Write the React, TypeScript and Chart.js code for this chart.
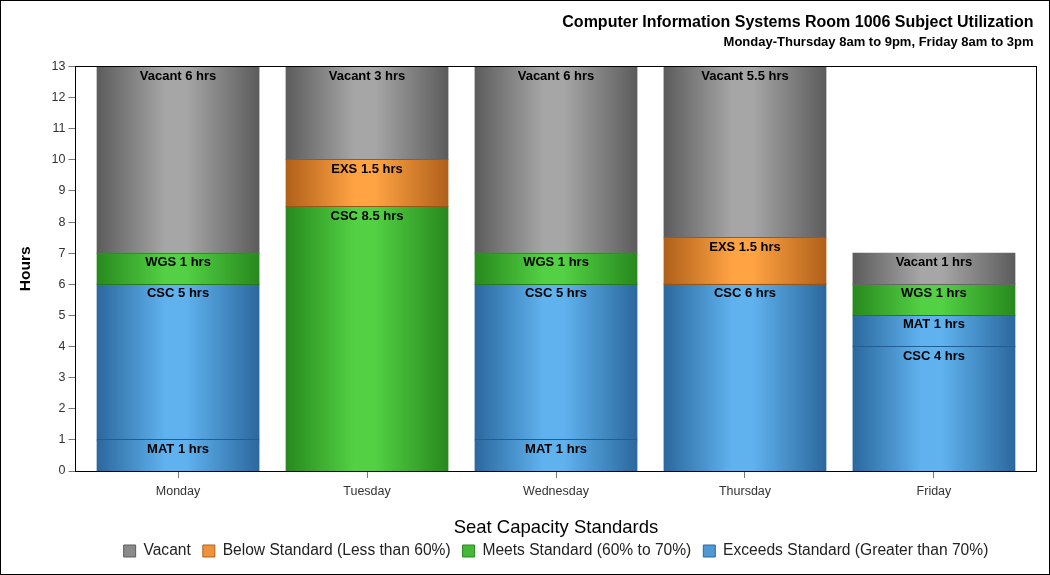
import React, { useEffect, useRef } from "react";
import { Chart, registerables } from "chart.js";

Chart.register(...registerables);

// ---------- data ----------
const days = ["Monday", "Tuesday", "Wednesday", "Thursday", "Friday"];
const matLowHours = [1, null, 1, null, null]; // Exceeds, bottom segment
const cscExceedsHours = [5, null, 5, 6, 4]; // Exceeds
const matHighHours = [null, null, null, null, 1]; // Exceeds, above CSC
const cscMeetsHours = [null, 8.5, null, null, null]; // Meets
const wgsMeetsHours = [1, null, 1, null, 1]; // Meets
const exsBelowHours = [null, 1.5, null, 1.5, null]; // Below
const vacantHours = [6, 3, 6, 5.5, 1]; // Vacant
const yTicks = [0, 1, 2, 3, 4, 5, 6, 7, 8, 9, 10, 11, 12, 13];

const titleText = "Computer Information Systems Room 1006 Subject Utilization";
const subtitleText = "Monday-Thursday 8am to 9pm, Friday 8am to 3pm";
const legendTitle = "Seat Capacity Standards";
const legendNames = {
  vacant: "Vacant",
  below: "Below Standard (Less than 60%)",
  meets: "Meets Standard (60% to 70%)",
  exceeds: "Exceeds Standard (Greater than 70%)",
};
const legendOrder = ["vacant", "below", "meets", "exceeds"];

// ---------- styles ----------
const FONT = '"Liberation Sans", Arial, sans-serif';
const palette: Record<string, { edge: string; light: string; border: string; box: string }> = {
  vacant: { edge: "#5c5c5c", light: "#a6a6a6", border: "#666666", box: "#8a8a8a" },
  below: { edge: "#b0601a", light: "#ffa343", border: "#9a5512", box: "#f0923a" },
  meets: { edge: "#27891d", light: "#53d044", border: "#237a1a", box: "#45b83a" },
  exceeds: { edge: "#2b689e", light: "#5fb2ee", border: "#1f5e94", box: "#4f98d4" },
};
const BAR_PCT = 0.856;
const X_INSET = 0.0426; // extra category-space at both ends of the x axis

const segments = [
  { code: "MAT", group: "exceeds", data: matLowHours },
  { code: "CSC", group: "exceeds", data: cscExceedsHours },
  { code: "MAT", group: "exceeds", data: matHighHours },
  { code: "CSC", group: "meets", data: cscMeetsHours },
  { code: "WGS", group: "meets", data: wgsMeetsHours },
  { code: "EXS", group: "below", data: exsBelowHours },
  { code: "Vacant", group: "vacant", data: vacantHours },
];

function gradientFor(group: string) {
  const p = palette[group];
  return (c: any) => {
    const chart = c.chart;
    const xs = chart.scales && chart.scales.x;
    if (!chart.chartArea || !xs || c.dataIndex === undefined) return p.box;
    const cx = xs.getPixelForValue(c.dataIndex);
    const step = Math.abs(xs.getPixelForValue(1) - xs.getPixelForValue(0));
    if (!isFinite(cx) || !isFinite(step) || step === 0) return p.box;
    const half = (step * BAR_PCT) / 2;
    const g = chart.ctx.createLinearGradient(cx - half, 0, cx + half, 0);
    g.addColorStop(0, p.edge);
    g.addColorStop(0.42, p.light);
    g.addColorStop(0.55, p.light);
    g.addColorStop(1, p.edge);
    return g;
  };
}

const segmentLabelPlugin = {
  id: "segmentLabels",
  afterDatasetsDraw(chart: any) {
    const ctx = chart.ctx;
    const area = chart.chartArea;
    ctx.save();
    // boundary lines at the bottom of each stacked segment
    ctx.lineWidth = 1;
    chart.data.datasets.forEach((ds: any, di: number) => {
      const meta = chart.getDatasetMeta(di);
      meta.data.forEach((bar: any, i: number) => {
        const v = ds.data[i];
        if (v === null || v === undefined) return;
        const bottom = Math.max(bar.y, bar.base);
        if (bottom >= area.bottom - 1) return;
        const yy = Math.floor(bottom) + 0.5;
        ctx.strokeStyle = ds.lineColor;
        ctx.beginPath();
        ctx.moveTo(bar.x - bar.width / 2, yy);
        ctx.lineTo(bar.x + bar.width / 2, yy);
        ctx.stroke();
      });
    });
    ctx.font = `bold 13px ${FONT}`;
    ctx.fillStyle = "#000";
    ctx.textAlign = "center";
    ctx.textBaseline = "alphabetic";
    chart.data.datasets.forEach((ds: any, di: number) => {
      const meta = chart.getDatasetMeta(di);
      meta.data.forEach((bar: any, i: number) => {
        const v = ds.data[i];
        if (v === null || v === undefined) return;
        const top = Math.min(bar.y, bar.base);
        ctx.fillText(`${ds.code} ${v} hrs`, bar.x, top + 13);
      });
    });
    ctx.restore();
  },
};

const framePlugin = {
  id: "plotFrame",
  afterDraw(chart: any) {
    const { left, right, top, bottom } = chart.chartArea;
    const ctx = chart.ctx;
    const l = Math.floor(left) + 0.5;
    const r = Math.floor(right) + 0.5;
    const t = Math.floor(top) + 0.5;
    const b = Math.floor(bottom) + 0.5;
    ctx.save();
    ctx.strokeStyle = "#000";
    ctx.lineWidth = 1;
    ctx.strokeRect(l, t, r - l, b - t);
    // titles, right-aligned
    ctx.fillStyle = "#000";
    ctx.textAlign = "right";
    ctx.textBaseline = "middle";
    ctx.font = `bold 16px ${FONT}`;
    ctx.fillText(titleText, r - 3, 22);
    ctx.font = `bold 13px ${FONT}`;
    ctx.fillText(subtitleText, r - 3, 41.4);
    ctx.restore();
  },
};

export default function App() {
  const ref = useRef<HTMLCanvasElement | null>(null);

  useEffect(() => {
    if (!ref.current) return;
    Chart.defaults.font.family = FONT;
    const chart = new Chart(ref.current, {
      type: "bar",
      data: {
        labels: days,
        datasets: segments.map((s) => ({
          label: s.code,
          code: s.code,
          lineColor: palette[s.group].border,
          data: s.data,
          backgroundColor: gradientFor(s.group),
          borderWidth: 0,
          inflateAmount: 0.5,
          barPercentage: BAR_PCT,
          categoryPercentage: 1,
        })) as any,
      },
      options: {
        animation: false,
        responsive: false,
        layout: { padding: { left: 0, right: 12.5, top: 65.5, bottom: 5.2 } },
        scales: {
          x: {
            stacked: true,
            offset: true,
            afterBuildTicks: (scale: any) => {
              const n = days.length;
              scale._startValue = -0.5 - X_INSET;
              scale._valueRange = n + 2 * X_INSET;
            },
            border: { display: true, color: "#000", width: 1 },
            grid: {
              display: true,
              drawOnChartArea: false,
              drawTicks: true,
              tickLength: 7,
              offset: false,
              color: "#777",
            },
            ticks: { color: "#333", font: { size: 12.5 }, padding: 6.5 },
          },
          y: {
            stacked: true,
            min: yTicks[0],
            max: yTicks[yTicks.length - 1],
            afterFit: (scale: any) => {
              scale.width = 74.5;
            },
            afterBuildTicks: (scale: any) => {
              scale.ticks = yTicks.map((v) => ({ value: v }));
            },
            border: { display: true, color: "#000", width: 1 },
            grid: {
              display: true,
              drawOnChartArea: false,
              drawTicks: true,
              tickLength: 7,
              color: "#777",
            },
            ticks: { color: "#333", font: { size: 12.5 }, padding: 3 },
            title: {
              display: true,
              text: "Hours",
              color: "#000",
              font: { size: 15.5, weight: "bold" },
              padding: { top: 15.7, bottom: 0 },
            },
          },
        },
        plugins: {
          title: { display: false },
          subtitle: { display: false },
          tooltip: { enabled: false },
          legend: {
            display: true,
            position: "bottom",
            fullSize: false,
            align: "center",
            onClick: () => {},
            title: {
              display: true,
              text: legendTitle,
              color: "#000",
              font: { size: 18.5 },
              padding: { top: 12.75, bottom: -9.75 },
            },
            labels: {
              boxWidth: 12,
              boxHeight: 12,
              padding: 12,
              color: "#222",
              font: { size: 15.6 },
              generateLabels: () =>
                legendOrder.map((k) => ({
                  text: (legendNames as any)[k],
                  fillStyle: palette[k].box,
                  strokeStyle: palette[k].edge,
                  lineWidth: 1,
                  hidden: false,
                  fontColor: "#222",
                })),
            },
          },
        },
      } as any,
      plugins: [segmentLabelPlugin, framePlugin],
    });
    return () => chart.destroy();
  }, []);

  return (
    <div
      style={{
        position: "absolute",
        left: 0,
        top: 0,
        width: 1050,
        height: 575,
        boxSizing: "border-box",
        border: "1px solid #000",
        background: "#fff",
      }}
    >
      <canvas ref={ref} width={1048} height={573} style={{ display: "block" }} />
    </div>
  );
}
